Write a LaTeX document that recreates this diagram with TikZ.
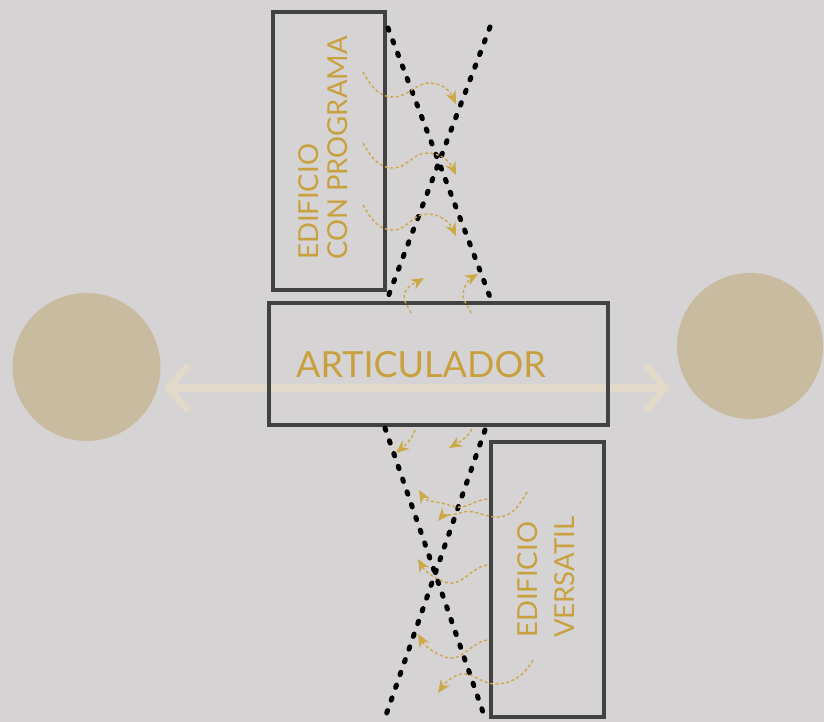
\documentclass[tikz,border=0pt]{standalone}
\usepackage{fontspec}
\setmainfont{Lato}
\usetikzlibrary{arrows.meta}
\definecolor{bg}{RGB}{214,211,212}
\definecolor{boxgray}{RGB}{66,66,66}
\definecolor{gold}{RGB}{201,160,62}
\definecolor{curvegold}{RGB}{205,168,70}
\definecolor{tan}{RGB}{201,187,160}
\definecolor{faint}{RGB}{226,217,203}
\tikzset{
  box/.style={draw=boxgray, line width=4pt, inner sep=0pt, outer sep=0pt},
  lbl/.style={text=gold, inner sep=0pt, font=\fontsize{27.5}{33}\selectfont},
  dotline/.style={line width=5pt, line cap=round, dash pattern=on 2.5pt off 11pt, black},
  flow/.style={draw=curvegold, line width=1.4pt, dash pattern=on 3pt off 2.5pt, -{Stealth[length=13pt,width=11pt,fill=curvegold]}},
  blob/.style={circle, fill=tan, inner sep=0pt, minimum size=148pt}
}
\begin{document}
\begin{tikzpicture}[x=1pt,y=-1pt]
\fill[bg] (0,0) rectangle (824,722);
\useasboundingbox (0,0) rectangle (824,722);

% circles
\node[blob] (lc) at (86.5,367) {};
\node[blob, minimum size=146pt] (rc) at (750,346) {};

% faint double arrow
\coordinate (al) at (164,388);
\coordinate (ar) at (670,388);
\draw[faint, line width=8pt, {Straight Barb[length=20pt,width=46pt,line width=7pt]}-{Straight Barb[length=20pt,width=46pt,line width=7pt]}] (al) -- (ar);

% boxes
\node[box, minimum width=112pt, minimum height=277pt] (top) at (329,151) {};
\node[box, minimum width=339pt, minimum height=122pt] (art) at (438.5,364) {};
\node[box, minimum width=113pt, minimum height=275pt] (bot) at (547.5,579.5) {};

% labels
\node[text=gold, inner sep=0pt, font=\fontsize{36}{42}\selectfont, anchor=base] (artl) at (421,377) {ARTICULADOR};
\node[lbl, rotate=90, anchor=base west] (t1) at (318,260) {EDIFICIO};
\node[lbl, rotate=90, anchor=base west] (t2) at (347,260) {CON PROGRAMA};
\node[lbl, rotate=90, anchor=base west] (b1) at (537,638) {EDIFICIO};
\node[lbl, rotate=90, anchor=base west] (b2) at (574,638) {VERSATIL};

% dotted X lines
\coordinate (x1a) at (388,28);  \coordinate (x1b) at (490,297);
\coordinate (x2a) at (490,27);  \coordinate (x2b) at (388,297);
\coordinate (y1a) at (385,428); \coordinate (y1b) at (485,718);
\coordinate (y2a) at (485,430); \coordinate (y2b) at (385,718);
\draw[dotline] (x1a) -- (x1b);
\draw[dotline] (x2a) -- (x2b);
\draw[dotline] (y1a) -- (y1b);
\draw[dotline] (y2a) -- (y2b);

% top flows
\draw[flow] (363,72) to[out=-60,in=180] (393,97) to[out=0,in=180] (430,83) to[out=0,in=115] (456,104);
\draw[flow] (363,143) to[out=-60,in=180] (393,168) to[out=0,in=180] (427,153) to[out=0,in=115] (456,175);
\draw[flow] (363,205) to[out=-60,in=180] (393,230) to[out=0,in=180] (427,214) to[out=0,in=115] (456,236);
\draw[flow] (411,313) to[out=110,in=-90] (404,296) to[out=80,in=210] (424,278);
\draw[flow] (471,313) to[out=110,in=-90] (463,294) to[out=80,in=210] (478,274);

% bottom flows
\draw[flow] (415,430) to[out=250,in=40] (396,453);
\draw[flow] (472,429) to[out=240,in=30] (449,448);
\draw[flow] (527,492) to[out=240,in=0] (497,517) to[out=180,in=20] (460,513) to[out=200,in=50] (438,521);
\draw[flow] (487,499) to[out=185,in=-20] (452,506) to[out=160,in=-60] (419,490);
\draw[flow] (487,565) to[out=190,in=-20] (445,582) to[out=160,in=-60] (418,559);
\draw[flow] (487,640) to[out=190,in=-20] (445,657) to[out=160,in=-60] (418,634);
\draw[flow] (533,660) to[out=240,in=0] (495,684) to[out=180,in=20] (458,675) to[out=200,in=55] (438,693);
\end{tikzpicture}
\end{document}
